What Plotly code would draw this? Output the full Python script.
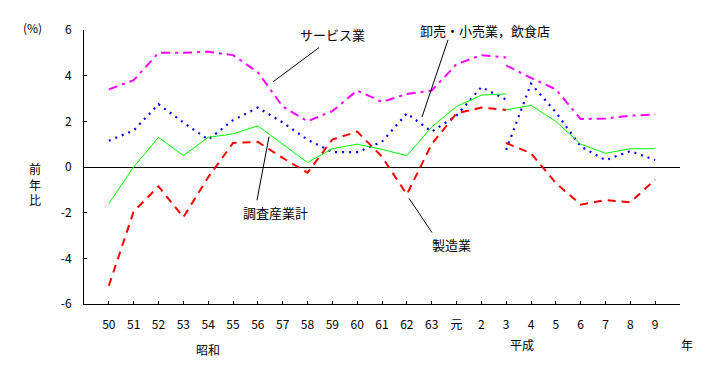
import plotly.graph_objects as go

# ---- data ----
labels = ["50", "51", "52", "53", "54", "55", "56", "57", "58", "59", "60", "61",
          "62", "63", "元", "2", "3", "4", "5", "6", "7", "8", "9"]
# first period: 50 .. 3 (17 points), second period: 3 .. 9 (7 points)
services_1 = [3.4, 3.8, 5.0, 5.0, 5.05, 4.9, 4.15, 2.65, 2.0, 2.45, 3.35, 2.85, 3.2, 3.35, 4.5, 4.9, 4.8]
services_2 = [4.45, 3.9, 3.4, 2.1, 2.12, 2.25, 2.3]
wholesale_1 = [1.15, 1.6, 2.75, 1.95, 1.2, 2.05, 2.6, 1.95, 1.2, 0.65, 0.65, 1.1, 2.35, 1.55, 2.25, 3.5, 2.95]
wholesale_2 = [0.75, 3.65, 2.4, 0.9, 0.3, 0.7, 0.3]
total_1 = [-1.6, 0.0, 1.3, 0.5, 1.3, 1.45, 1.8, 1.0, 0.2, 0.8, 1.0, 0.77, 0.5, 1.75, 2.65, 3.15, 3.2]
total_2 = [2.5, 2.7, 2.0, 1.0, 0.6, 0.8, 0.8]
manuf_1 = [-5.2, -1.95, -0.85, -2.2, -0.45, 1.05, 1.1, 0.4, -0.25, 1.2, 1.55, 0.45, -1.2, 1.0, 2.35, 2.6, 2.5]
manuf_2 = [1.05, 0.6, -0.7, -1.65, -1.45, -1.55, -0.55]
y_ticks = [-6, -4, -2, 0, 2, 4, 6]
y_tick_text = ["-6", "-4", "-2", "0", "2", "4", "6"]

pos = list(range(1, len(labels) + 1))
x1 = pos[:len(services_1)]
x2 = pos[len(services_1) - 1:]

FONT = "Noto Sans CJK JP, Noto Sans, sans-serif"

# page has an 8px body margin; figure is placed at (8, 8)
OFF = 8
W, H = 725 - 2 * OFF, 365 - 2 * OFF
# plot area in page pixels: x 84..680, y 24..304
L = 84 - OFF
T = 24 - OFF
R = W - (680 - OFF)
B = H - (304 - OFF)
PW, PH = W - L - R, H - T - B


def px(xp, yp):
    """page pixel -> paper coords"""
    return (xp - OFF - L) / PW, (H - B - (yp - OFF)) / PH


fig = go.Figure()

styles = [
    (services_1, services_2, "#FF00FF", 2, "9px,5px,3px,5px"),
    (wholesale_1, wholesale_2, "#0000FF", 2.2, "2px,5px"),
    (total_1, total_2, "#00FF00", 1, "solid"),
    (manuf_1, manuf_2, "#FF0000", 2, "8px,6px"),
]
for s1, s2, col, w, dash in styles:
    for xs, ys in ((x1, s1), (x2, s2)):
        fig.add_trace(go.Scatter(x=xs, y=ys, mode="lines",
                                 line=dict(color=col, width=w, dash=dash),
                                 showlegend=False, hoverinfo="skip"))

tickvals = list(range(0, len(labels) + 2))
ticktext = [""] + labels + [""]

fig.update_layout(
    width=W, height=H,
    margin=dict(l=L, r=R, t=T, b=B),
    paper_bgcolor="white", plot_bgcolor="white",
    font=dict(family=FONT, size=12, color="black"),
    xaxis=dict(range=[0, len(labels) + 1], tickvals=tickvals, ticktext=ticktext,
               showgrid=False, zeroline=False, showline=True, linecolor="black",
               linewidth=1, ticks="inside", ticklen=3, tickcolor="black",
               ticklabelstandoff=10, tickfont=dict(size=12)),
    yaxis=dict(range=[-6, 6], tickvals=y_ticks, ticktext=y_tick_text,
               showgrid=False, zeroline=True, zerolinecolor="black", zerolinewidth=1,
               showline=True, linecolor="black", linewidth=1,
               ticks="inside", ticklen=3, tickcolor="black",
               ticklabelstandoff=9, tickfont=dict(size=12)),
)

# leader lines (page pixel endpoints)
leaders = [((273, 77), (319, 42)),
           ((448, 34), (422, 113)),
           ((257, 198), (269, 133)),
           ((409, 196), (432, 231))]
for (xa, ya), (xb, yb) in leaders:
    p0 = px(xa, ya)
    p1 = px(xb, yb)
    fig.add_shape(type="line", xref="paper", yref="paper",
                  x0=p0[0], y0=p0[1], x1=p1[0], y1=p1[1],
                  line=dict(color="black", width=1))

texts = [
    ("サービス業", 332, 29, 13),
    ("卸売・小売業，飲食店", 485, 24, 13),
    ("調査産業計", 275, 211, 13),
    ("製造業", 451, 243, 13),
    ("(%)", 32, 21, 12),
    ("前<br>年<br>比", 35, 181, 12),
    ("昭和", 208, 350, 12),
    ("平成", 522, 345, 12),
    ("年", 687, 345, 12),
]
for t, xp_, yp_, sz in texts:
    xx, yy = px(xp_, yp_)
    fig.add_annotation(text=t, x=xx, y=yy, xref="paper", yref="paper",
                       showarrow=False, xanchor="center", yanchor="middle",
                       font=dict(family=FONT, size=sz, color="black"))

fig.write_html("out.html")
